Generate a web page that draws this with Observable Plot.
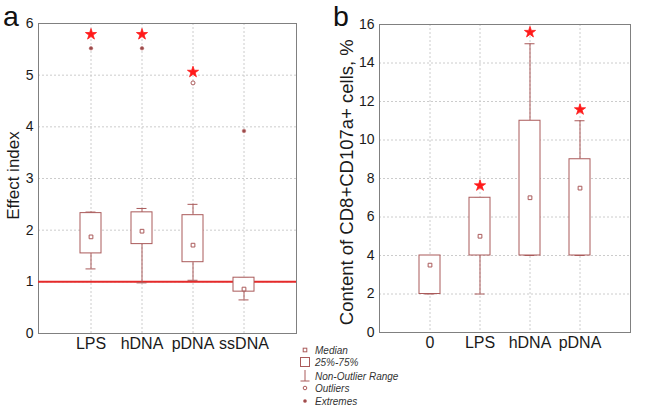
<!DOCTYPE html>
<html>
<head>
<meta charset="utf-8">
<script src="https://cdn.jsdelivr.net/npm/d3@7"></script>
<script src="https://cdn.jsdelivr.net/npm/@observablehq/plot@0.6"></script>
<style>
  html, body { margin: 0; padding: 0; background: #fff; }
  #wrap { position: relative; width: 649px; height: 413px; overflow: hidden; font-family: "Liberation Sans", Arial, sans-serif; }
  #wrap > * { position: absolute; }
</style>
</head>
<body>
<div id="wrap"></div>
<script>
// ---- Panel a: Effect index ----
const catsA = ["LPS", "hDNA", "pDNA", "ssDNA"];
const medA = [1.87, 1.98, 1.71, 0.86];
const q1A = [1.55, 1.73, 1.38, 0.81];
const q3A = [2.33, 2.345, 2.29, 1.08];
const loA = [1.25, 0.98, 1.03, 0.65];
const hiA = [2.35, 2.42, 2.5, 1.08];
const extremeCatsA = ["LPS", "hDNA", "ssDNA"];
const extremeValsA = [5.52, 5.52, 3.92];
const outlierCatsA = ["pDNA"];
const outlierValsA = [4.85];
const starCatsA = ["LPS", "hDNA", "pDNA"];
const starValsA = [5.79, 5.79, 5.06];
const ticksA = [0, 1, 2, 3, 4, 5, 6];
const refLineA = [1];

// ---- Panel b: CD8+CD107a+ cells ----
const catsB = ["0", "LPS", "hDNA", "pDNA"];
const medB = [3.5, 5, 7, 7.5];
const q1B = [2, 4, 4, 4];
const q3B = [4, 7, 11, 9];
const loB = [2, 2, 4, 4];
const hiB = [4, 7, 15, 11];
const starCatsB = ["LPS", "hDNA", "pDNA"];
const starValsB = [7.63, 15.6, 11.58];
const ticksB = [0, 2, 4, 6, 8, 10, 12, 14, 16];

const legendLabels = ["Median", "25%-75%", "Non-Outlier Range", "Outliers", "Extremes"];
const panelLetters = ["a", "b"];

const boxColor = "#aa5a5a";
const starColor = "#ff1a1a";
const font = "'Liberation Sans', Arial, sans-serif";

function boxTable(cats, med, q1, q3, lo, hi) {
  return cats.map((c, i) => ({cat: c, med: med[i], q1: q1[i], q3: q3[i], lo: lo[i], hi: hi[i]}));
}
function pts(cats, vals) { return cats.map((c, i) => ({cat: c, v: vals[i]})); }

function boxPlot({cats, table, extremes = [], outliers = [], stars, ticks, domain, label, width, height,
                  marginLeft, marginRight, marginTop, marginBottom, labelDx, labelDy, labelSize, extra = []}) {
  return Plot.plot({
    width, height, marginLeft, marginRight, marginTop, marginBottom,
    style: {fontFamily: font, background: "transparent", color: "#1a1a1a", overflow: "visible"},
    x: {type: "band", domain: cats, paddingInner: 0.58, paddingOuter: 0.79},
    y: {domain},
    marks: [
      Plot.gridX(cats, {stroke: "#cccccc", strokeOpacity: 1, strokeDasharray: "2,2"}),
      Plot.gridY(ticks, {stroke: "#cccccc", strokeOpacity: 1, strokeDasharray: "2,2"}),
      Plot.frame({stroke: "#808080"}),
      ...extra,
      Plot.ruleX(table, {x: "cat", y1: "lo", y2: "q1", stroke: boxColor}),
      Plot.ruleX(table, {x: "cat", y1: "q3", y2: "hi", stroke: boxColor}),
      Plot.tickY(table, {x: "cat", y: "lo", stroke: boxColor, insetLeft: 5.5, insetRight: 5.5}),
      Plot.tickY(table, {x: "cat", y: "hi", stroke: boxColor, insetLeft: 5.5, insetRight: 5.5}),
      Plot.barY(table, {x: "cat", y1: "q1", y2: "q3", fill: "white", stroke: boxColor}),
      Plot.dot(table, {x: "cat", y: "med", symbol: "square", r: 2.1, stroke: boxColor, fill: "white", strokeWidth: 1}),
      Plot.dot(extremes, {x: "cat", y: "v", r: 1.8, fill: "#9a4a4a", stroke: "#c07070", strokeWidth: 0.6}),
      Plot.dot(outliers, {x: "cat", y: "v", r: 2, fill: "white", stroke: boxColor, strokeWidth: 1}),
      Plot.dot(stars, {x: "cat", y: "v", symbol: "star", r: 3.5, fill: starColor, stroke: starColor, strokeWidth: 0.8}),
      Plot.axisX({tickSize: 0, tickPadding: 4, fontSize: 16, label: null}),
      Plot.axisY({ticks, tickSize: 0, tickPadding: 5, fontSize: 14, label: null, tickFormat: d3.format("d")}),
      Plot.text([label], {frameAnchor: "left", textAnchor: "middle", lineAnchor: "middle", dx: labelDx, dy: labelDy,
                          rotate: -90, fontSize: labelSize, fill: "#1a1a1a"})
    ]
  });
}

const wrap = document.getElementById("wrap");

const plotA = boxPlot({
  cats: catsA,
  table: boxTable(catsA, medA, q1A, q3A, loA, hiA),
  extremes: pts(extremeCatsA, extremeValsA),
  outliers: pts(outlierCatsA, outlierValsA),
  stars: pts(starCatsA, starValsA),
  ticks: ticksA, domain: [0, 6], label: "Effect index",
  width: 310, height: 360, marginLeft: 38, marginRight: 14, marginTop: 23, marginBottom: 27,
  labelDx: -24.5, labelDy: -3, labelSize: 17,
  extra: [Plot.ruleY(refLineA, {stroke: "#e52a2a", strokeWidth: 2})]
});
plotA.style.left = "0px"; plotA.style.top = "0px";
wrap.appendChild(plotA);

const plotB = boxPlot({
  cats: catsB,
  table: boxTable(catsB, medB, q1B, q3B, loB, hiB),
  stars: pts(starCatsB, starValsB),
  ticks: ticksB, domain: [0, 16], label: "Content of CD8+CD107a+ cells, %",
  width: 324, height: 360, marginLeft: 54, marginRight: 19, marginTop: 24, marginBottom: 28,
  labelDx: -32.5, labelDy: 3.7, labelSize: 18.5
});
plotB.style.left = "325px"; plotB.style.top = "0px";
wrap.appendChild(plotB);

// panel letters
const letters = d3.create("svg").attr("width", 649).attr("height", 40)
  .style("left", "0px").style("top", "0px").style("pointer-events", "none")
  .style("font-family", font).style("font-size", "28.5px");
letters.append("text").attr("x", 3).attr("y", 26).attr("fill", "#111").text(panelLetters[0]);
letters.append("text").attr("x", 333).attr("y", 26).attr("fill", "#111").text(panelLetters[1]);
wrap.appendChild(letters.node());

// legend
const leg = d3.create("svg").attr("width", 130).attr("height", 75)
  .style("left", "296px").style("top", "340px")
  .style("font-family", font).style("font-size", "10px").style("font-style", "italic");
const ys = [10, 22, 36, 48, 61];
const sx = 9;
leg.append("rect").attr("x", sx - 1.8).attr("y", ys[0] - 1.8).attr("width", 3.6).attr("height", 3.6)
  .attr("fill", "white").attr("stroke", boxColor);
leg.append("rect").attr("x", sx - 4.5).attr("y", ys[1] - 4.5).attr("width", 9).attr("height", 9)
  .attr("fill", "white").attr("stroke", boxColor);
leg.append("line").attr("x1", sx).attr("x2", sx).attr("y1", ys[2] - 6).attr("y2", ys[2] + 5).attr("stroke", boxColor);
leg.append("line").attr("x1", sx - 4.5).attr("x2", sx + 4.5).attr("y1", ys[2] + 5).attr("y2", ys[2] + 5).attr("stroke", boxColor);
leg.append("circle").attr("cx", sx).attr("cy", ys[3]).attr("r", 1.8).attr("fill", "white").attr("stroke", boxColor);
leg.append("circle").attr("cx", sx).attr("cy", ys[4]).attr("r", 1.6).attr("fill", "#9a4a4a").attr("stroke", "#c07070").attr("stroke-width", 0.6);
legendLabels.forEach((t, i) => {
  leg.append("text").attr("x", 19).attr("y", ys[i]).attr("dy", "0.35em").attr("fill", "#333").text(t);
});
wrap.appendChild(leg.node());
</script>
</body>
</html>
